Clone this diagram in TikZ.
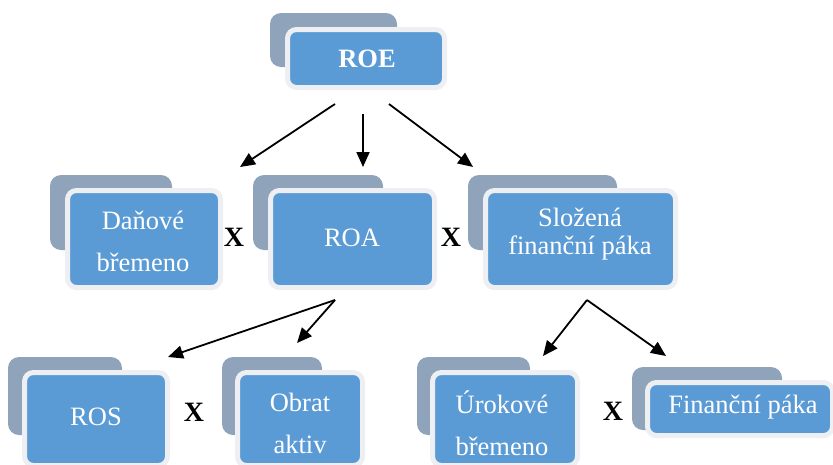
\documentclass[tikz,border=0pt]{standalone}
\usepackage{fontspec}
\setmainfont{Liberation Serif}
\usetikzlibrary{arrows.meta}
\definecolor{boxblue}{HTML}{5B9BD5}
\definecolor{boxrim}{HTML}{EDEFF2}
\definecolor{boxgray}{HTML}{8FA4BA}
\tikzset{
  frontbox/.style={draw=boxrim, line width=5pt, fill=boxblue, rounded corners=9pt,
    inner sep=0pt, outer sep=0pt},
  backbox/.style={fill=boxgray, rounded corners=11pt, inner sep=0pt, outer sep=0pt},
  boxtext/.style={text=white, font=\fontsize{26.5}{28}\selectfont, align=center, inner sep=0pt},
  times/.style={font=\bfseries\fontsize{28}{30}\selectfont, inner sep=0pt},
  link/.style={line width=1.8pt, -{Triangle[length=15pt,width=13pt]}}
}
\begin{document}
\begin{tikzpicture}[x=1pt,y=-1pt]
\useasboundingbox (0,0) rectangle (833,464);
\clip (0,0) rectangle (833,464);

% back plates
\node[backbox, minimum width=127pt, minimum height=54pt] (roeB) at (333.5,40) {};
\node[backbox, minimum width=122pt, minimum height=75pt] (danB) at (111,212.5) {};
\node[backbox, minimum width=130pt, minimum height=75pt] (roaB) at (318,212.5) {};
\node[backbox, minimum width=149pt, minimum height=75pt] (sloB) at (542.5,212.5) {};
\node[backbox, minimum width=114pt, minimum height=78pt] (rosB) at (65,396) {};
\node[backbox, minimum width=100pt, minimum height=78pt] (obrB) at (272,396) {};
\node[backbox, minimum width=113pt, minimum height=78pt] (uroB) at (473.5,396) {};
\node[backbox, minimum width=150pt, minimum height=63pt] (finB) at (707,398.5) {};

% front boxes
\node[frontbox, minimum width=157pt, minimum height=58pt] (roe) at (366,58.5) {};
\node[frontbox, minimum width=153pt, minimum height=97pt] (dan) at (144,239) {};
\node[frontbox, minimum width=164pt, minimum height=97pt] (roa) at (352.5,239) {};
\node[frontbox, minimum width=190pt, minimum height=97pt] (slo) at (580.5,239) {};
\node[frontbox, minimum width=143pt, minimum height=93pt] (ros) at (96,419) {};
\node[frontbox, minimum width=125pt, minimum height=93pt] (obr) at (300,419) {};
\node[frontbox, minimum width=145pt, minimum height=93pt] (uro) at (505,419) {};
\node[frontbox, minimum width=185pt, minimum height=53pt] (fin) at (740,409) {};

% labels
\node[boxtext, font=\bfseries\fontsize{26.5}{28}\selectfont] (roeT) at (367,59) {ROE};
\node[boxtext] (danT) at (143,241) {Daňové\\[14pt]břemeno};
\node[boxtext] (roaT) at (352,238) {ROA};
\node[boxtext] (sloT) at (580,234) {Složená\\finanční páka};
\node[boxtext] (rosT) at (96,417) {ROS};
\node[boxtext] (obrT) at (300,423) {Obrat\\[14pt]aktiv};
\node[boxtext] (uroT) at (502,423) {Úrokové\\[14pt]břemeno};
\node[boxtext] (finT) at (743,407) {Finanční páka};

% multiplication signs
\node[times] (x1) at (234,237) {X};
\node[times] (x2) at (451,237) {X};
\node[times] (x3) at (194,412) {X};
\node[times] (x4) at (613,411) {X};

% connector end points
\coordinate (roeL) at (335,104);
\coordinate (roeM) at (363,114);
\coordinate (roeR) at (389,104);
\coordinate (danI) at (240,167);
\coordinate (roaI) at (363,167);
\coordinate (sloI) at (473,167);
\coordinate (roaO) at (335,300);
\coordinate (rosI) at (168,357);
\coordinate (obrI) at (297,343);
\coordinate (sloO) at (587,300);
\coordinate (uroI) at (543,356);
\coordinate (finI) at (666,356);

\draw[link] (roeL) -- (danI);
\draw[link] (roeM) -- (roaI);
\draw[link] (roeR) -- (sloI);
\draw[link] (roaO) -- (rosI);
\draw[link] (roaO) -- (obrI);
\draw[link] (sloO) -- (uroI);
\draw[link] (sloO) -- (finI);
\end{tikzpicture}
\end{document}
